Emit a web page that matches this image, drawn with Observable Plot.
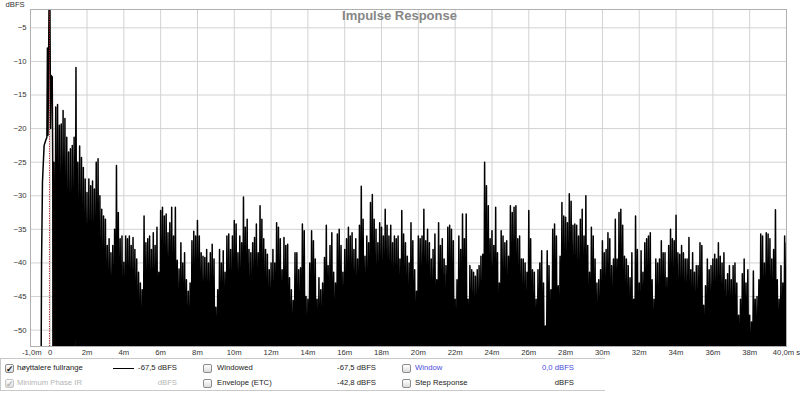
<!DOCTYPE html>
<html>
<head>
<meta charset="utf-8">
<script src="https://cdn.jsdelivr.net/npm/d3@7"></script>
<script src="https://cdn.jsdelivr.net/npm/@observablehq/plot@0.6"></script>
<style>
  html, body { margin: 0; padding: 0; background: #fff; }
  #wrap { position: relative; width: 800px; height: 393px; overflow: hidden; font-family: "Liberation Sans", Arial, sans-serif; }
  #legend { position: absolute; left: 0; top: 358px; width: 605px; height: 33px; border-top: 1px solid #c9c9c9; border-left: 1px solid #c9c9c9; border-bottom: 1px solid #c9c9c9; box-sizing: border-box; }
  .it { position: absolute; font-size: 7.7px; line-height: 10px; color: #222; white-space: nowrap; }
  .cb { position: absolute; width: 9px; height: 9px; border: 1px solid #8c8c8c; border-radius: 2px; box-sizing: border-box;
        background: linear-gradient(#ffffff, #dcdcdc); font-size: 9px; line-height: 8px; text-align: center; font-weight: bold; color: #111; }
  .cb.dis { border-color: #c6c6c6; color: #b4b4b4; }
  .gray { color: #b5b5b5; }
  .blue { color: #4b4be0; }
</style>
</head>
<body>
<div id="wrap">
  <div id="chart"></div>
  <div id="legend"></div>
</div>
<script>
// ---- Chart data (ms, dBFS) ----
const xDomain = [-1.07, 40.0];
const yDomain = [-52.44, -2.27];
const xTicks = [-1, 0, 2, 4, 6, 8, 10, 12, 14, 16, 18, 20, 22, 24, 26, 28, 30, 32, 34, 36, 38, 40];
const xTickLabels = ["-1,0m", "0", "2m", "4m", "6m", "8m", "10m", "12m", "14m", "16m", "18m", "20m", "22m", "24m", "26m", "28m", "30m", "32m", "34m", "36m", "38m", "40,0m s"];
const gridXTicks = [0, 2, 4, 6, 8, 10, 12, 14, 16, 18, 20, 22, 24, 26, 28, 30, 32, 34, 36, 38];
const yTicks = [-5, -10, -15, -20, -25, -30, -35, -40, -45, -50];
const peakTime = -0.04;
const floorDb = -60;

// Impulse onset, read point by point
const headT  = [-0.50, -0.47, -0.42, -0.33, -0.25, -0.18, -0.15, -0.12, -0.06, -0.02, 0.02, 0.05, 0.11, 0.14];
const headDb = [-60,   -40,   -28,   -22.5, -21.8, -21.3, -8,    -21,   -0.5,  0,     -20,  -12.1, -12.3, -26];

// Decay: spike peaks every 0.1 ms from 0.2 ms to 40.0 ms
const tailStart = 0.2;
const tailStep = 0.1;
const tailPeaks = [
  -25, -16.8, -16.4, -19.5, -19.3, -17.3, -18.5, -21.3,
  -23.5, -23, -22.5, -21.3, -10.9, -25, -22.6, -24.3, -25.8, -27.5,
  -29.5, -27.5, -28.5, -27.8, -29, -25, -24.5, -30, -32, -33,
  -33.5, -37.4, -36.4, -38.5, -37.4, -35, -25.5, -32.5, -36.4, -36,
  -39.9, -36, -36.4, -36, -37.4, -36.2, -38, -39.4, -41.4, -43,
  -44, -33, -37, -36.4, -36, -38, -35.5, -37.4, -34.7, -41.4,
  -32.2, -31.7, -33, -32.7, -35.5, -34, -31.7, -36, -31.7, -39.6,
  -40.9, -37, -40, -38.5, -42.5, -44.2, -43, -36.7, -35.3, -36,
  -33.7, -36, -38.5, -39, -39.2, -38, -40, -38.5, -37.2, -39.4,
  -46.6, -44, -38, -40, -38.2, -41.4, -36, -35.7, -38, -36,
  -33.7, -34.2, -38.5, -36, -37, -30.2, -34.7, -33.5, -38, -38.5,
  -37, -36.2, -34.2, -38.5, -31.5, -33.5, -36.4, -38, -38.7, -41,
  -40, -38, -40, -34, -34.7, -36.4, -41, -36.2, -37.4, -37.2,
  -42.2, -44, -45.6, -38.5, -38.5, -41, -40.7, -34.2, -35.2, -45,
  -45.4, -40, -35.2, -36.7, -39.4, -45.4, -42.2, -44, -43, -39.2,
  -34.4, -40.4, -37.4, -35.5, -41.4, -43, -35.7, -35, -37.4, -41.4,
  -38, -36.4, -34.7, -36, -35.5, -38, -36.4, -39.4, -34.4, -28.6,
  -33.5, -39, -36, -37, -31, -29.8, -33.5, -35, -37, -34,
  -34.7, -36, -32, -34.4, -36, -34.4, -37, -36, -36.4, -36,
  -39.4, -32.2, -35.7, -37, -39, -40, -34, -36.7, -41, -44.2,
  -36, -36.4, -36, -32, -36.7, -35, -37, -39.4, -38, -35.7,
  -42.5, -34, -37.4, -36.4, -39.4, -40.4, -34.7, -34.4, -35, -36.7,
  -45.4, -42.5, -36, -38, -32.7, -36.4, -32.7, -45.4, -40.4, -41,
  -41.4, -42, -41, -40.4, -39, -38.7, -25, -28.5, -31.5, -36.4,
  -35.2, -37.4, -31.7, -38.5, -43, -35.2, -36, -37, -36.7, -39,
  -31.5, -32.5, -31.7, -31.5, -36.4, -36, -39.4, -39.4, -40, -41.4,
  -32.2, -36.4, -41, -41.4, -45.4, -41, -40, -38.2, -43, -49.4,
  -38.2, -40.4, -44, -35, -34.2, -36, -43.4, -39, -31, -33,
  -33.2, -34, -29.7, -30.8, -34.4, -34.2, -34.4, -36, -33.5, -32,
  -36, -30, -37.4, -41.4, -34.7, -36, -39.4, -43, -42.5, -41,
  -36.7, -38.5, -38, -35.5, -36.4, -40.4, -39.4, -33.5, -39.4, -32.5,
  -32, -34.4, -39, -39.4, -40.4, -42.2, -38.5, -45.4, -33, -38,
  -43, -38.2, -41.4, -37, -36.4, -36, -35.5, -42.5, -45.4, -39.4,
  -40, -39.4, -36.7, -38.5, -38.5, -42.2, -37.4, -35, -36.4, -36.7,
  -32.9, -38.5, -38.7, -37.4, -38.5, -39.4, -39.4, -36.2, -41, -38.5,
  -41.4, -40.4, -40.4, -37, -37.4, -46.3, -43.4, -39.4, -41, -40.4,
  -39.4, -38.7, -39.4, -37, -39, -40, -38.5, -42.5, -41.6, -40.4,
  -42.5, -40.4, -40, -43, -47.8, -45.4, -41.6, -39.4, -43, -41,
  -47.8, -48.8, -41.2, -45.4, -45, -42.5, -35.7, -36, -40, -35.5,
  -35.7, -36.4, -39.4, -38, -32.1, -42.5, -45.4, -40.4, -43, -36,
  -37
];

// ---- build line table ----
const pts = [];
headT.forEach((t, i) => pts.push({t, db: headDb[i]}));
tailPeaks.forEach((v, i) => {
  const t = tailStart + i * tailStep;
  pts.push({t: t - tailStep * 0.5, db: floorDb});
  pts.push({t, db: v});
});
pts.push({t: 40.05, db: floorDb});

const labelMap = new Map(xTicks.map((d, i) => [d, xTickLabels[i]]));

const chart = Plot.plot({
  width: 800,
  height: 358,
  marginTop: 9,
  marginLeft: 30,
  marginRight: 14,
  marginBottom: 12,
  x: {domain: xDomain},
  y: {domain: yDomain},
  style: {fontFamily: "'Liberation Sans', Arial, sans-serif", fontSize: "7.7px", color: "#333", background: "white"},
  marks: [
    Plot.gridX(gridXTicks, {stroke: "#d2d2d2", strokeOpacity: 1}),
    Plot.gridY(yTicks, {stroke: "#d2d2d2", strokeOpacity: 1}),
    Plot.line(pts, {x: "t", y: "db", stroke: "black", strokeWidth: 1.5, clip: true}),
    Plot.ruleX([peakTime], {stroke: "#b02020", strokeWidth: 1, strokeDasharray: "1.2,1.2"}),
    Plot.frame({stroke: "#b0b0b0"}),
    Plot.axisX(xTicks, {tickSize: 0, tickPadding: 3, label: null, tickFormat: d => labelMap.get(d), fill: "#333"}),
    Plot.axisY(yTicks, {tickSize: 0, tickPadding: 4, label: null, fill: "#333"}),
    Plot.text(["Impulse Response"], {frameAnchor: "top", dx: -9, dy: 1, fontSize: 13, fontWeight: "bold", fill: "#868686"}),
    Plot.text(["dBFS"], {frameAnchor: "top-left", dx: -25, dy: -3, lineAnchor: "bottom", textAnchor: "start", fill: "#333"})
  ]
});
document.getElementById("chart").appendChild(chart);

// ---- legend (REW style) ----
const legendRows = [
  [
    {type: "cb", x: 5, checked: true},
    {type: "txt", x: 17, text: "høyttalere fullrange"},
    {type: "line", x: 113, w: 21},
    {type: "rtxt", r: 177, text: "-67,5 dBFS"},
    {type: "cb", x: 203},
    {type: "txt", x: 217, text: "Windowed"},
    {type: "rtxt", r: 376, text: "-67,5 dBFS"},
    {type: "cb", x: 402},
    {type: "txt", x: 415, text: "Window", cls: "blue"},
    {type: "rtxt", r: 574, text: "0,0 dBFS", cls: "blue"}
  ],
  [
    {type: "cb", x: 5, checked: true, dis: true},
    {type: "txt", x: 17, text: "Minimum Phase IR", cls: "gray"},
    {type: "rtxt", r: 177, text: "dBFS", cls: "gray"},
    {type: "cb", x: 203},
    {type: "txt", x: 217, text: "Envelope (ETC)"},
    {type: "rtxt", r: 376, text: "-42,8 dBFS"},
    {type: "cb", x: 402},
    {type: "txt", x: 415, text: "Step Response"},
    {type: "rtxt", r: 574, text: "dBFS"}
  ]
];
const rowY = [368, 383];
const legend = document.getElementById("legend");
const top0 = 358;
legendRows.forEach((row, ri) => {
  const cy = rowY[ri] - top0;
  row.forEach(it => {
    const el = document.createElement("div");
    if (it.type === "cb") {
      el.className = "cb" + (it.dis ? " dis" : "");
      el.style.left = (it.x - 1) + "px";
      el.style.top = (cy - 5.5) + "px";
      el.textContent = it.checked ? "✓" : "";
    } else if (it.type === "line") {
      el.style.position = "absolute";
      el.style.left = (it.x - 1) + "px";
      el.style.top = (cy - 1.5) + "px";
      el.style.width = it.w + "px";
      el.style.height = "1.6px";
      el.style.background = "#000";
    } else if (it.type === "txt") {
      el.className = "it " + (it.cls || "");
      el.style.left = (it.x - 1) + "px";
      el.style.top = (cy - 6) + "px";
      el.textContent = it.text;
    } else {
      el.className = "it " + (it.cls || "");
      el.style.right = (605 - it.r) + "px";
      el.style.top = (cy - 6) + "px";
      el.style.textAlign = "right";
      el.textContent = it.text;
    }
    legend.appendChild(el);
  });
});
</script>
</body>
</html>
